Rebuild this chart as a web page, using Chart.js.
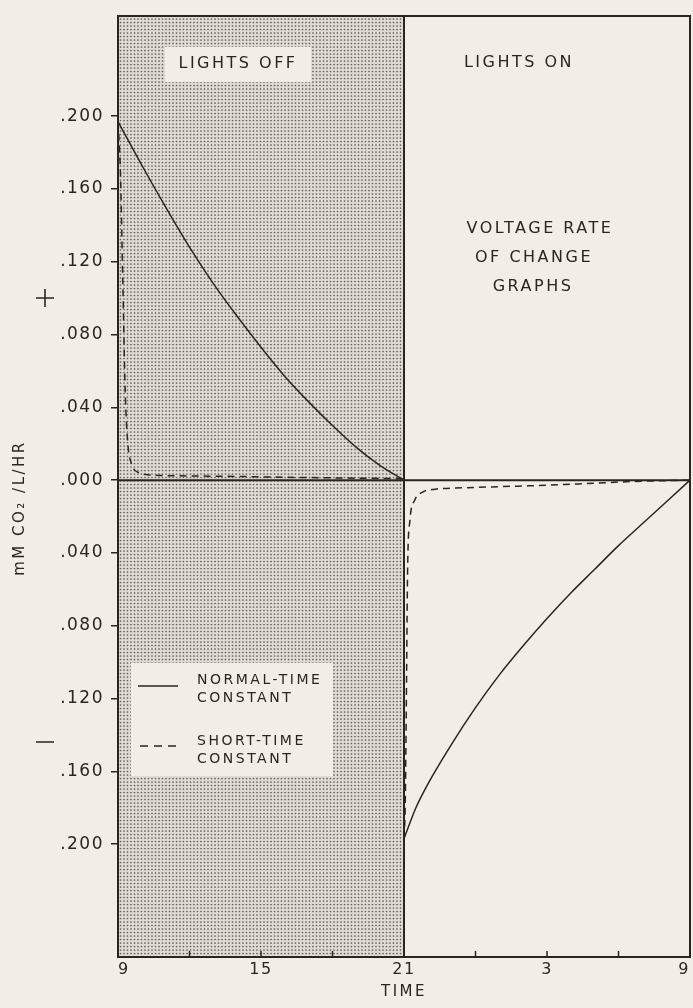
<!DOCTYPE html>
<html>
<head>
<meta charset="utf-8">
<script src="https://cdn.jsdelivr.net/npm/chart.js@4/dist/chart.umd.min.js"></script>
<style>
  html, body { margin: 0; padding: 0; background: #f2eee6; }
  canvas { display: block; }
</style>
</head>
<body>
<canvas id="chart" width="693" height="1008"></canvas>
<script>
// hours after 09:00, lights off 9 -> 21, lights on 21 -> 9
const xTickValues = [0, 3, 6, 9, 12, 15, 18, 21, 24];
const xTickLabels = ['9', '15', '21', '3', '9'];
const yTickValues = [-0.2, -0.16, -0.12, -0.08, -0.04, 0, 0.04, 0.08, 0.12, 0.16, 0.2];

// normal-time constant
const offNormalT = [0, 1, 2, 3, 4, 5, 6, 7, 8, 9, 10, 11, 12];
const offNormalV = [0.197, 0.173, 0.150, 0.128, 0.108, 0.090, 0.073, 0.057, 0.043, 0.030, 0.018, 0.008, 0.000];
const onNormalT = [12, 12.5, 13, 14, 15, 16, 17, 18, 19, 20, 21, 22, 23, 24];
const onNormalV = [-0.197, -0.180, -0.167, -0.145, -0.125, -0.107, -0.091, -0.076, -0.062, -0.049, -0.036, -0.024, -0.012, 0];

// short-time constant
const offShortT = [0, 0.1, 0.2, 0.3, 0.4, 0.6, 0.9, 1.4, 2.5, 5, 8, 12];
const offShortV = [0.197, 0.17, 0.11, 0.05, 0.022, 0.008, 0.004, 0.0028, 0.0024, 0.002, 0.0014, 0.0008];
const onShortT = [12, 12.05, 12.1, 12.15, 12.25, 12.45, 12.8, 13.3, 14.5, 16, 18, 20, 21.5, 24];
const onShortV = [-0.197, -0.18, -0.12, -0.05, -0.022, -0.011, -0.0065, -0.005, -0.0042, -0.0036, -0.0028, -0.0017, -0.0008, 0];

const ink = '#2a2520';
const paper = '#f2eee6';
const font = '"DejaVu Sans", sans-serif';

function pts(ts, vs) {
    return ts.map((t, i) => ({ x: t, y: vs[i] }));
}

function makeStipple() {
    const c = document.createElement('canvas');
    c.width = 7; c.height = 7;
    const g = c.getContext('2d');
    g.fillStyle = '#dfdbd2';
    g.fillRect(0, 0, 7, 7);
    g.fillStyle = '#5f5a53';
    [[1.5, 1.5], [5, 1.5], [1.5, 5], [5, 5]].forEach(([x, y]) => {
        g.beginPath();
        g.arc(x, y, 0.85, 0, Math.PI * 2);
        g.fill();
    });
    return c;
}

function text(ctx, str, x, y, size, align) {
    ctx.save();
    ctx.font = size + 'px ' + font;
    ctx.letterSpacing = '2.5px';
    ctx.fillStyle = ink;
    ctx.textAlign = align || 'center';
    ctx.textBaseline = 'middle';
    ctx.fillText(str, x, y);
    ctx.restore();
}

const backdrop = {
    id: 'backdrop',
    beforeDraw(chart) {
        const { ctx, chartArea: a, scales: { x } } = chart;
        ctx.save();
        ctx.fillStyle = paper;
        ctx.fillRect(0, 0, chart.width, chart.height);
        ctx.fillStyle = ctx.createPattern(makeStipple(), 'repeat');
        const x0 = x.getPixelForValue(0), x1 = x.getPixelForValue(12);
        ctx.fillRect(x0, a.top, x1 - x0, a.bottom - a.top);
        // clear patches behind labels
        ctx.fillStyle = paper;
        ctx.fillRect(165, 47, 146, 35);
        ctx.fillRect(131, 663, 202, 113);
        ctx.restore();
        // slightly wider spacing for the tick lettering
        ctx.letterSpacing = '1.5px';
    }
};

const frame = {
    id: 'frame',
    afterDatasetsDraw(chart) {
        const { ctx, chartArea: a, scales: { x, y } } = chart;
        ctx.save();
        ctx.strokeStyle = ink;
        ctx.lineWidth = 2;
        ctx.strokeRect(a.left, a.top, a.right - a.left, a.bottom - a.top);
        // zero line and lights on/off divider
        const y0 = y.getPixelForValue(0);
        const xd = x.getPixelForValue(12);
        ctx.beginPath();
        ctx.moveTo(a.left, y0); ctx.lineTo(a.right, y0);
        ctx.moveTo(xd, a.top); ctx.lineTo(xd, a.bottom);
        ctx.stroke();
        // inside ticks on time axis
        ctx.lineWidth = 1.5;
        ctx.beginPath();
        xTickValues.forEach(v => {
            const px = x.getPixelForValue(v);
            ctx.moveTo(px, a.bottom); ctx.lineTo(px, a.bottom - 6);
        });
        ctx.stroke();
        ctx.restore();

        text(ctx, 'LIGHTS OFF', 238, 64, 16);
        text(ctx, 'LIGHTS ON', 519, 63, 16);
        text(ctx, 'VOLTAGE RATE', 540, 229, 16);
        text(ctx, 'OF CHANGE', 534, 258, 16);
        text(ctx, 'GRAPHS', 533, 287, 16);
        text(ctx, 'TIME', (a.left + a.right) / 2, 992, 15);

        // sign marks beside the axis
        ctx.save();
        ctx.strokeStyle = ink;
        ctx.lineWidth = 1.6;
        ctx.beginPath();
        ctx.moveTo(36, 298); ctx.lineTo(54, 298);
        ctx.moveTo(45, 289); ctx.lineTo(45, 307);
        ctx.moveTo(36, 742); ctx.lineTo(54, 742);
        ctx.stroke();
        ctx.restore();

        // axis title
        ctx.save();
        ctx.translate(20, 508);
        ctx.rotate(-Math.PI / 2);
        text(ctx, 'mM CO\u2082 /L/HR', 0, 0, 15);
        ctx.restore();

        // legend
        ctx.save();
        ctx.strokeStyle = ink;
        ctx.lineWidth = 1.5;
        ctx.beginPath();
        ctx.moveTo(138, 686); ctx.lineTo(178, 686);
        ctx.stroke();
        ctx.setLineDash([8, 6]);
        ctx.beginPath();
        ctx.moveTo(140, 746); ctx.lineTo(180, 746);
        ctx.stroke();
        ctx.restore();
        text(ctx, 'NORMAL-TIME', 197, 680, 14, 'left');
        text(ctx, 'CONSTANT', 197, 698, 14, 'left');
        text(ctx, 'SHORT-TIME', 197, 741, 14, 'left');
        text(ctx, 'CONSTANT', 197, 759, 14, 'left');
    }
};

const solid = { borderColor: ink, borderWidth: 1.5, pointRadius: 0, fill: false, cubicInterpolationMode: 'monotone' };
const dashed = { ...solid, borderDash: [7, 5] };

new Chart(document.getElementById('chart'), {
    type: 'line',
    data: {
        datasets: [
            { ...solid, label: 'NORMAL-TIME CONSTANT', data: pts(offNormalT, offNormalV) },
            { ...solid, label: 'NORMAL-TIME CONSTANT', data: pts(onNormalT, onNormalV) },
            { ...dashed, label: 'SHORT-TIME CONSTANT', data: pts(offShortT, offShortV) },
            { ...dashed, label: 'SHORT-TIME CONSTANT', data: pts(onShortT, onShortV) }
        ]
    },
    options: {
        responsive: false,
        animation: false,
        layout: { padding: { top: 16, right: 3, left: 0, bottom: 0 } },
        plugins: { legend: { display: false }, tooltip: { enabled: false } },
        scales: {
            x: {
                type: 'linear',
                min: 0,
                max: 24,
                afterBuildTicks: s => { s.ticks = xTickValues.map(v => ({ value: v })); },
                afterFit: s => { s.height = 51; s.paddingLeft = 0; s.paddingRight = 0; },
                ticks: {
                    autoSkip: false,
                    maxRotation: 0,
                    align: 'inner',
                    color: ink,
                    padding: -5,
                    font: { family: font, size: 16 },
                    callback: v => (v % 6 === 0 ? xTickLabels[v / 6] : '')
                },
                grid: { display: false },
                border: { display: false }
            },
            y: {
                min: -0.262,
                max: 0.255,
                afterBuildTicks: s => { s.ticks = yTickValues.map(v => ({ value: v })); },
                afterFit: s => { s.width = 118; s.paddingTop = 0; s.paddingBottom = 0; },
                ticks: {
                    autoSkip: false,
                    color: ink,
                    padding: 7,
                    font: { family: font, size: 17 },
                    callback: v => '.' + String(Math.round(Math.abs(v) * 1000)).padStart(3, '0')
                },
                grid: { drawOnChartArea: false, tickLength: 7, color: ink, lineWidth: 1.5 },
                border: { display: false }
            }
        }
    },
    plugins: [backdrop, frame]
});
</script>
</body>
</html>
